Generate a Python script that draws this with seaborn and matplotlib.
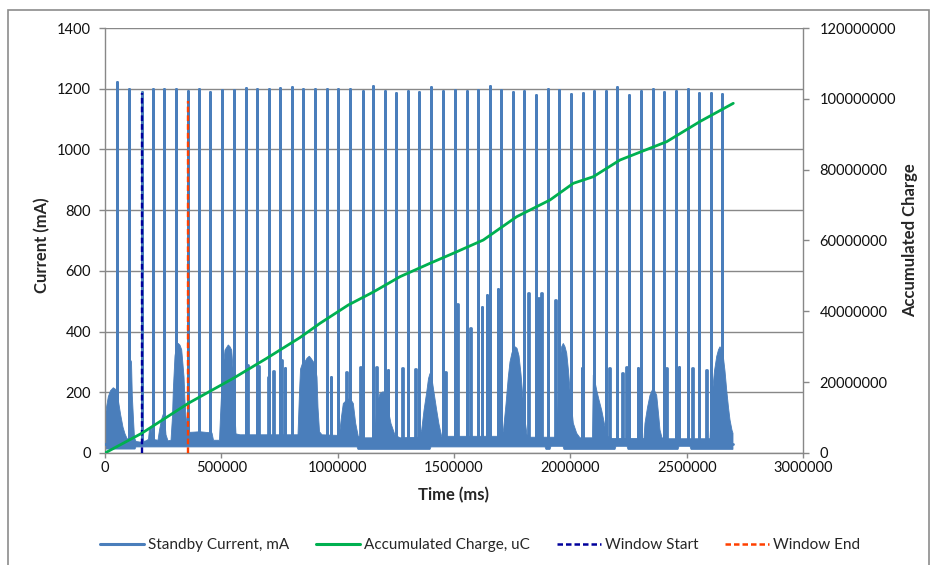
import matplotlib
matplotlib.use("Agg")
import matplotlib.pyplot as plt
from matplotlib.lines import Line2D
from matplotlib.patches import Rectangle
from matplotlib.ticker import FuncFormatter
import pandas as pd
import seaborn as sns

# ---------------- data ----------------
# periodic transmit pulses of the standby current
spike_time_ms = [52900, 104400, 157700, 205000, 254900, 305200, 355400, 404000, 452600, 502900,
                 554400, 604700, 654600, 703600, 753400, 802400, 852300, 902600, 952900, 1002700,
                 1053000, 1107600, 1153200, 1202200, 1250700, 1301000, 1350900, 1401100, 1454000, 1504300,
                 1554600, 1604400, 1654700, 1702000, 1752300, 1802200, 1852400, 1905300, 1952600, 2002900,
                 2053200, 2103000, 2152000, 2201900, 2252200, 2302400, 2354000, 2403900, 2454200, 2504400,
                 2554300, 2603300, 2650600]
spike_peak_mA = [1221, 1199, 1188, 1199, 1199, 1199, 1191, 1199, 1188, 1197,
                 1197, 1203, 1199, 1199, 1203, 1205, 1199, 1199, 1199, 1199,
                 1199, 1191, 1208, 1194, 1186, 1194, 1188, 1206, 1191, 1195,
                 1191, 1195, 1208, 1197, 1188, 1191, 1180, 1199, 1197, 1184,
                 1186, 1191, 1191, 1206, 1180, 1191, 1199, 1189, 1191, 1199,
                 1186, 1186, 1184]

# short high-current bursts following some pulses
burst_time_ms = [610300, 659700, 702700, 724200, 756400, 771500,
                 969200, 1034500, 1096000, 1163500, 1214200, 1276500, 1332400, 1460000,
                 1512900, 1568800, 1618200, 1639700, 1687000, 1820200, 1861000, 1873900, 1934100,
                 2048000, 2166200, 2222100, 2239300, 2288700, 2413300, 2464900, 2522900, 2583100]
burst_peak_mA = [290, 288, 252, 270, 305, 280,
                 250, 268, 284, 282, 273, 280, 277, 268,
                 490, 411, 480, 520, 540, 526, 510, 527, 505,
                 279, 279, 262, 282, 279, 279, 284, 279, 274]

# upper edge of the dense standby-current band (including the broad activity humps)
envelope_time_ms = [0, 6400, 14200, 23600, 35700, 50300, 58000, 67500, 77400, 86000,
                    94600, 105700, 106600, 113900, 117300, 122500, 126800, 133200, 150400, 176200,
                    187000, 191300, 199900, 204200, 227800, 234200, 242800, 250600, 255700, 262200,
                    270800, 283700, 290100, 293600, 300900, 307300, 315100, 322400, 329700, 335300,
                    339600, 343900, 348100, 358000, 365300, 408300, 459900, 466300, 492100, 496400,
                    501600, 509300, 515800, 529900, 537300, 544600, 550200, 554400, 558700, 563000,
                    580200, 829500, 836000, 840300, 851000, 859600, 868200, 878100, 885400, 895300,
                    902600, 911200, 915500, 922000, 932700, 1001500, 1010100, 1016600, 1024300, 1038900,
                    1053100, 1067300, 1077600, 1088800, 1117500, 1158300, 1167700, 1174600, 1181900, 1196100,
                    1210700, 1220600, 1229200, 1246400, 1267900, 1349600, 1361200, 1371100, 1382700, 1390400,
                    1396900, 1403300, 1411100, 1425700, 1435500, 1447200, 1461300, 1706300, 1712800, 1723500,
                    1733400, 1740700, 1749300, 1762200, 1770800, 1779400, 1788000, 1796600, 1805200, 1813800,
                    1826700, 1938400, 1944900, 1948300, 1955600, 1962900, 1969800, 1977100, 1984400, 1992200,
                    1998600, 2005900, 2012800, 2027400, 2041600, 2095300, 2098700, 2106000, 2113300, 2123200,
                    2134800, 2149000, 2159700, 2179100, 2316600, 2320900, 2331700, 2342400, 2356600, 2371200,
                    2379000, 2385400, 2394000, 2407000, 2600300, 2606700, 2611900, 2619600, 2629100, 2636800,
                    2643300, 2650600, 2657500, 2664800, 2672100, 2679800, 2686300, 2694900, 2699100]
envelope_mA = [110, 150, 185, 205, 215, 207, 170, 125, 85, 63,
               48, 42, 312, 300, 190, 110, 50, 38, 36, 40,
               45, 80, 85, 45, 42, 75, 110, 128, 120, 60,
               40, 42, 120, 207, 320, 350, 361, 355, 340, 290,
               251, 170, 120, 76, 68, 70, 66, 42, 42, 120,
               207, 290, 339, 356, 350, 339, 280, 229, 130, 63,
               60, 60, 200, 276, 300, 301, 312, 319, 312, 301,
               290, 250, 150, 70, 60, 58, 76, 120, 163, 174,
               180, 163, 97, 54, 50, 50, 141, 175, 196, 202,
               174, 130, 97, 59, 50, 52, 76, 140, 200, 245,
               262, 255, 215, 141, 95, 54, 55, 55, 76, 160,
               250, 300, 330, 350, 345, 320, 260, 180, 110, 60,
               52, 52, 120, 185, 300, 350, 361, 350, 329, 270,
               207, 150, 98, 65, 50, 50, 257, 235, 207, 175,
               141, 87, 55, 48, 48, 98, 150, 190, 215, 190,
               130, 76, 50, 47, 47, 150, 207, 270, 318, 340,
               350, 340, 318, 270, 207, 150, 109, 75, 65]

# lower edge of the standby-current band
floor_time_ms = [0, 128900, 133200, 1083100, 1087400, 1396900, 1401200, 1891100, 1895400, 1912600,
                 1916900, 1968500, 1972800, 2192000, 2196300, 2243600, 2247900, 2462800, 2467100, 2514400,
                 2518700, 2699100]
floor_mA = [13, 13, 20, 20, 12, 12, 20, 20, 12, 12,
            22, 22, 12, 12, 22, 22, 12, 12, 22, 22,
            12, 12]

standby_base_mA = 30

# accumulated charge (secondary axis)
charge_time_ms = [0, 157700, 358000, 551400, 695000, 838100, 924100, 1045700, 1153200, 1267900,
                  1396900, 1497000, 1626000, 1769500, 1912600, 2012800, 2098700, 2213500, 2414100,
                  2557300, 2700400]
charge_uC = [0, 5560000, 14030000, 21090000, 26740000, 32600000, 36620000, 41790000, 45460000, 49780000,
             53560000, 56390000, 60140000, 66720000, 71440000, 76150000, 78010000, 82730000, 87900000,
             93600000, 98740000]

# measurement window markers
window_start_ms, window_start_top_mA = 158000, 1185
window_end_ms, window_end_top_mA = 357000, 1160

x_ticks = [0, 500000, 1000000, 1500000, 2000000, 2500000, 3000000]
y_ticks = [0, 200, 400, 600, 800, 1000, 1200, 1400]
y2_ticks = [0, 20000000, 40000000, 60000000, 80000000, 100000000, 120000000]

# ---------------- style ----------------
BLUE = "#4A7EBB"
GREEN = "#00B050"
NAVY = "#00009C"
ORANGE = "#FF4000"
GRID = "#888888"
BURST_WIDTH_MS = 4000
WIN_DASH = (0, (2.4, 1.3))

sns.set_style("white")
plt.rcParams["font.family"] = ["Lato", "DejaVu Sans"]
plt.rcParams["font.size"] = 10

W, H = 931, 565
fig = plt.figure(figsize=(W / 100, H / 100), dpi=100)
ax = fig.add_axes([105 / W, 1 - 453 / H, 698 / W, 425 / H])
ax2 = ax.twinx()

# standby current: dense band plus pulses/bursts
band_x = envelope_time_ms + floor_time_ms[::-1]
band_y = envelope_mA + floor_mA[::-1]
ax.fill(band_x, band_y, color=BLUE, lw=0.6, ec=BLUE, zorder=2)

events = sorted([(t, h, False) for t, h in zip(spike_time_ms, spike_peak_mA)] +
                [(t, h, True) for t, h in zip(burst_time_ms, burst_peak_mA)])
trace_t, trace_mA = [0], [standby_base_mA]
for t, h, is_burst in events:
    if is_burst:
        trace_t += [t, t, t + BURST_WIDTH_MS, t + BURST_WIDTH_MS]
        trace_mA += [standby_base_mA, h, h, standby_base_mA]
    else:
        trace_t += [t, t, t]
        trace_mA += [standby_base_mA, h, standby_base_mA]
trace_t.append(envelope_time_ms[-1])
trace_mA.append(standby_base_mA)
current = pd.DataFrame({"t": trace_t, "mA": trace_mA})
sns.lineplot(data=current, x="t", y="mA", sort=False, estimator=None, ax=ax,
             color=BLUE, lw=2.0, legend=False, zorder=3)

# window markers
sns.lineplot(x=[window_start_ms, window_start_ms], y=[0, window_start_top_mA], ax=ax,
             estimator=None, sort=False, color=NAVY, lw=1.7, linestyle=WIN_DASH, zorder=4)
sns.lineplot(x=[window_end_ms, window_end_ms], y=[0, window_end_top_mA], ax=ax,
             estimator=None, sort=False, color=ORANGE, lw=1.7, linestyle=WIN_DASH, zorder=4)

# accumulated charge
charge = pd.DataFrame({"t": charge_time_ms, "uC": charge_uC})
sns.lineplot(data=charge, x="t", y="uC", ax=ax2, color=GREEN, lw=2.0, sort=False, estimator=None)

# ---------------- axes ----------------
ax.set_xlim(0, 3000000)
ax.set_ylim(0, 1400)
ax2.set_ylim(0, 120000000)
ax.set_xticks(x_ticks)
ax.set_yticks(y_ticks)
ax2.set_yticks(y2_ticks)
fmt = FuncFormatter(lambda v, p: f"{v:.0f}")
ax.xaxis.set_major_formatter(fmt)
ax.yaxis.set_major_formatter(fmt)
ax2.yaxis.set_major_formatter(fmt)

ax.set_axisbelow(True)
ax.yaxis.grid(True, color=GRID, lw=1.0)
ax.xaxis.grid(False)
ax2.grid(False)

for s in ["top", "right"]:
    ax.spines[s].set_visible(False)
for s in ["top", "left", "bottom"]:
    ax2.spines[s].set_visible(False)
for sp in [ax.spines["left"], ax.spines["bottom"], ax2.spines["right"]]:
    sp.set_color(GRID)
    sp.set_linewidth(1.0)

ax.tick_params(axis="y", direction="out", length=4.5, width=1.0, color=GRID, pad=5.5,
               labelsize=10.5, labelcolor="#111111", left=True)
ax.tick_params(axis="x", direction="out", length=3.5, width=1.0, color=GRID, pad=2.0,
               labelsize=10.5, labelcolor="#111111", bottom=True)
ax2.tick_params(axis="y", direction="out", length=4.5, width=1.0, color=GRID, pad=7.5,
                labelsize=10.5, labelcolor="#111111", right=True)

ax.set_xlabel("Time (ms)", fontsize=12, fontweight="bold")
ax.xaxis.set_label_coords(0.5, -0.099)
ax.xaxis.label.set_va("center")
ax.set_ylabel("Current (mA)", fontsize=12, fontweight="bold")
ax.yaxis.set_label_coords(-0.0903, 0.49)
ax.yaxis.label.set_va("center")
ax2.set_ylabel("Accumulated Charge", fontsize=12, fontweight="bold")
ax2.yaxis.set_label_coords(1.153, 0.5)
ax2.yaxis.label.set_va("center")
ax2.yaxis.label.set_rotation(90)

# legend
handles = [
    Line2D([], [], color=BLUE, lw=2.2),
    Line2D([], [], color=GREEN, lw=2.2),
    Line2D([], [], color=NAVY, lw=1.8, linestyle=(0, (2.2, 1.2))),
    Line2D([], [], color=ORANGE, lw=1.8, linestyle=(0, (2.2, 1.2))),
]
labels = ["Standby Current, mA", "Accumulated Charge, uC", "Window Start", "Window End"]
fig.legend(handles, labels, loc="center", bbox_to_anchor=(480 / W, 1 - 545 / H), ncol=4,
           frameon=False, fontsize=11, handlelength=2.9, handletextpad=0.25,
           columnspacing=1.75)

# chart-area border
fig.add_artist(Rectangle((8 / W, -0.05), (929 - 8) / W, 1.05 - 10 / H, transform=fig.transFigure,
                         fill=False, ec="#8c8c8c", lw=1.2))

fig.savefig("out.png", dpi=100)
